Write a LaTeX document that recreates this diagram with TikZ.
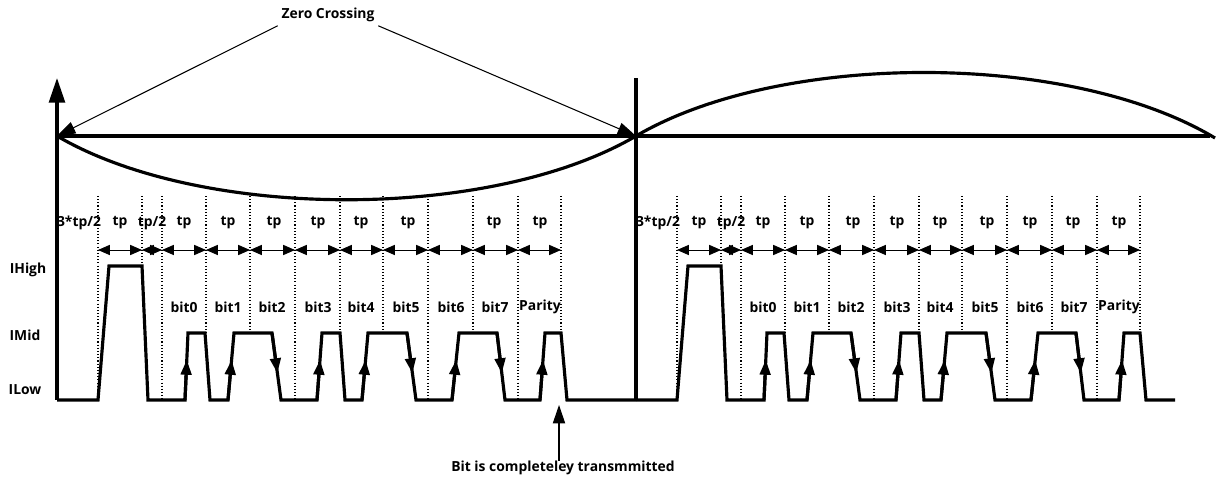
\documentclass[tikz,border=0pt]{standalone}
\usepackage{fontspec}
\setmainfont{Open Sans}
\usetikzlibrary{arrows.meta,calc}
\newcommand{\pxunit}[0]{0.02cm}

\begin{document}
\begin{tikzpicture}[x=\pxunit, y=-\pxunit]
  \tikzset{lbl/.style={font=\bfseries\fontsize{7.9}{9}\selectfont, inner sep=0pt},
    sig/.style={line width=1.8pt, line join=miter},
    guide/.style={dash pattern=on 0.6pt off 1.2pt, line width=0.6pt},
    span/.style={{Triangle[length=6.8pt,width=5.8pt]}-{Triangle[length=6.8pt,width=5.8pt]}, line width=0.5pt},
    edgetip/.style={-{Triangle[length=8.5pt,width=6pt]}, line width=1.8pt},
    note/.style={-{Triangle[length=10.5pt,width=7pt]}, line width=0.6pt}}
  \useasboundingbox (0,0) rectangle (1217,479);
  \coordinate (origin) at (57,136);
  \coordinate (zero) at (636,136);
  \coordinate (done) at (559,405);
  \draw[sig, -{Triangle[length=14pt,width=9pt]}] (57,400) -- (57,78);
  \draw[sig] (636,400) -- (636,78);
  \draw[sig] (origin) -- (1210,136);
  \draw[sig] (origin) .. controls (202,221) and (491,221) .. (zero)
    .. controls (781,51) and (1070,51) .. (1215,138);
  \node[lbl, inner sep=2pt] (zc) at (328,15) {Zero Crossing};
  \draw[note] (zc.south west) -- (origin);
  \draw[note] (zc.south east) -- (zero);
  \node[lbl] (ihigh) at (28,270) {IHigh};
  \node[lbl] (imid) at (25,335) {IMid};
  \node[lbl] (ilow) at (25,390) {ILow};
  \node[lbl] (sent) at (563,468) {Bit is completeley transmmitted};
  \draw[note] (sent.north -| done) -- (done);
  \foreach \s/\e/\h/\tps in {0/636/a/{184,228,274,318,361,408,494,540},
      579/596/b/{184,228,274,318,361,408,451,494,540}}{
    \begin{scope}[shift={(\s,0)}]
      \foreach \x/\yb [count=\i] in {98/400,142/266,162/400,206/333,250/333,295/400,
          340/333,383/333,428/400,473/333,518/400,561/333}{
        \draw[guide] (\x,196) -- (\x,\yb);
        \coordinate (\h\i) at (\x,250);
      }
      \foreach \i [evaluate=\i as \j using int(\i+1)] in {1,...,11}
        \draw[span] (\h\i) -- (\h\j);
      \node[lbl] (\h start) at (79,223) {3*tp/2};
      \node[lbl] (\h lead) at (120,223) {tp};
      \node[lbl] (\h half) at (152,223) {tp/2};
      \foreach \x [count=\k] in \tps
        \node[lbl] (\h tp\k) at (\x,223) {tp};
      \foreach \x/\b in {184/bit0,228/bit1,272/bit2,318/bit3,361/bit4,406/bit5,
          451/bit6,495/bit7,540/Parity}
        \node[lbl] (\h\b) at (\x,307) {\b};
      \draw[sig] (57,400) -- (98,400) -- (109,266) -- (142,266) -- (148,400)
        -- (185,400) -- (188,333) -- (205,333) -- (210,400) -- (228,400)
        -- (234,333) -- (272,333) -- (281,400) -- (317,400) -- (322,333)
        -- (340,333) -- (345,400) -- (362,400) -- (368,333) -- (407,333)
        -- (416,400) -- (452,400) -- (459,333) -- (497,333) -- (505,400)
        -- (540,400) -- (545,333) -- (561,333) -- (567,400) -- (\e,400);
      \foreach \p/\q in {185/188,228/234,317/322,362/368,452/459,540/545}
        \draw[edgetip] (\p,400) -- ($(\p,400)!0.6!(\q,333)$);
      \foreach \p/\q in {272/281,407/416,497/505}
        \draw[edgetip] (\p,333) -- ($(\p,333)!0.6!(\q,400)$);
    \end{scope}
  }
\end{tikzpicture}
\end{document}
